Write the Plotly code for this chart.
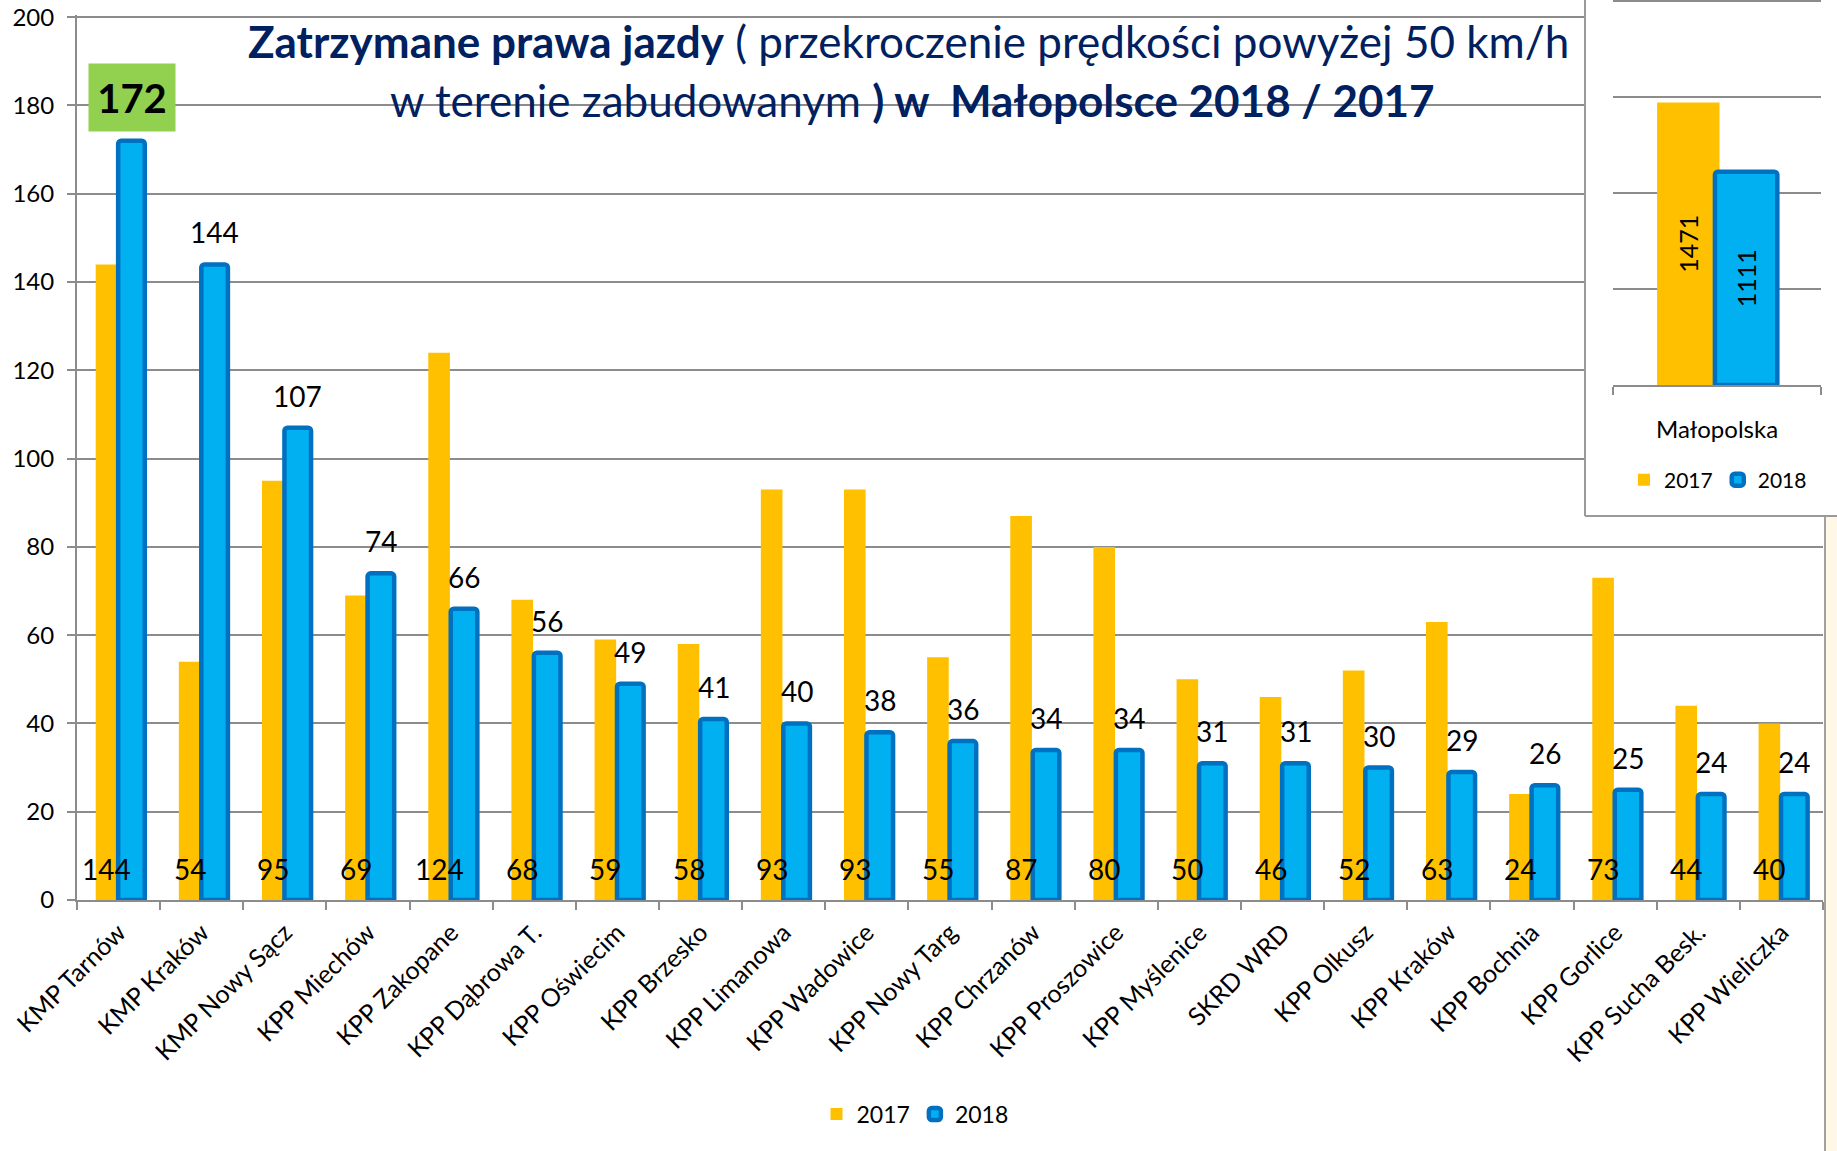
import plotly.graph_objects as go

# data
categories = ["KMP Tarnów", "KMP Kraków", "KMP Nowy Sącz", "KPP Miechów", "KPP Zakopane",
              "KPP Dąbrowa T.", "KPP Oświecim", "KPP Brzesko", "KPP Limanowa", "KPP Wadowice",
              "KPP Nowy Targ", "KPP Chrzanów", "KPP Proszowice", "KPP Myślenice", "SKRD WRD",
              "KPP Olkusz", "KPP Kraków", "KPP Bochnia", "KPP Gorlice", "KPP Sucha Besk.",
              "KPP Wieliczka"]
v2017 = [144, 54, 95, 69, 124, 68, 59, 58, 93, 93, 55, 87, 80, 50, 46, 52, 63, 24, 73, 44, 40]
v2018 = [172, 144, 107, 74, 66, 56, 49, 41, 40, 38, 36, 34, 34, 31, 31, 30, 29, 26, 25, 24, 24]

total_cat = ["Małopolska"]
total2017 = [1471]
total2018 = [1111]

YELLOW = "#FFC000"
BLUE = "#00B0F0"
BLUE_EDGE = "#0070C0"
GRID = "#8c8c8c"
TITLE = "#002060"
FONT = "Lato"

# page geometry (px, measured on the page)
W, H = 1837, 1151
L, R, T, B = 77, 14, 15, 251
pw, ph = W - L - R, H - T - B


def px_x(x):
    return (x - L) / pw


def px_y(y):
    return (H - B - y) / ph


fig = go.Figure()

fig.add_trace(go.Bar(
    x=categories, y=v2017, name="2017",
    marker=dict(color=YELLOW, line=dict(width=0)),
    offset=-0.275, width=0.26, hoverinfo="x+y",
))
fig.add_trace(go.Bar(
    x=categories, y=v2018, name="2018",
    marker=dict(color=BLUE, line=dict(color=BLUE_EDGE, width=4.5), cornerradius=3),
    offset=-0.005, width=0.32, hoverinfo="x+y",
))

# inset: totals for the whole region
fig.add_trace(go.Bar(
    x=total_cat, y=total2017, name="2017", xaxis="x3", yaxis="y3", legend="legend2",
    marker=dict(color=YELLOW, line=dict(width=0)),
    offset=-0.288, width=0.30,
    text=[str(v) for v in total2017], textposition="inside", textangle=-90,
    insidetextanchor="middle", textfont=dict(family=FONT, size=25, color="black"),
))
fig.add_trace(go.Bar(
    x=total_cat, y=total2018, name="2018", xaxis="x3", yaxis="y3", legend="legend2",
    marker=dict(color=BLUE, line=dict(color=BLUE_EDGE, width=4.5), cornerradius=3),
    offset=-0.01, width=0.30,
    text=[str(v) for v in total2018], textposition="inside", textangle=-90,
    insidetextanchor="middle", textfont=dict(family=FONT, size=25, color="black"),
))

# value labels
ann = []
for c, v in zip(categories, v2017):
    ann.append(dict(x=c, y=0, xref="x", yref="y", text=str(v), showarrow=False,
                    xanchor="center", yanchor="middle",
                    xshift=-12, yshift=31, font=dict(family=FONT, size=28, color="black")))
top = max(v2018)
for c, v in zip(categories, v2018):
    if v == top:
        ann.append(dict(x=c, y=v, xref="x", yref="y", text="<b>%d</b>" % v, showarrow=False,
                        xanchor="center", yanchor="middle",
                        xshift=13, yshift=43, bgcolor="#92D050", width=84, height=65,
                        font=dict(family=FONT, size=40, color="black")))
    else:
        ann.append(dict(x=c, y=v, xref="x", yref="y", text=str(v), showarrow=False,
                        xanchor="center", yanchor="middle",
                        xshift=13, yshift=32, font=dict(family=FONT, size=28, color="black")))

# title
ann.append(dict(x=px_x(908), y=px_y(41), xref="paper", yref="paper", showarrow=False,
                xanchor="center", yanchor="middle",
                text="<b>Zatrzymane prawa jazdy</b> ( przekroczenie prędkości powyżej 50 km/h",
                font=dict(family=FONT, size=44, color=TITLE)))
ann.append(dict(x=px_x(912), y=px_y(100), xref="paper", yref="paper", showarrow=False,
                xanchor="center", yanchor="middle",
                text="w terenie zabudowanym <b>) w  Małopolsce 2018 / 2017</b>",
                font=dict(family=FONT, size=44, color=TITLE)))

shapes = [
    # inset frame
    dict(type="line", xref="paper", yref="paper", x0=px_x(1585), x1=px_x(1585),
         y0=px_y(516), y1=px_y(0), line=dict(color="#9a9a9a", width=2), layer="above"),
    dict(type="line", xref="paper", yref="paper", x0=px_x(1585), x1=px_x(1840),
         y0=px_y(516), y1=px_y(516), line=dict(color="#9a9a9a", width=2), layer="above"),
    dict(type="rect", xref="paper", yref="paper", x0=px_x(1586), x1=px_x(1840),
         y0=1.0, y1=px_y(0), fillcolor="white", line=dict(width=0), layer="above"),
    # top gridline of the inset, just at the page edge
    dict(type="line", xref="paper", yref="paper", x0=px_x(1613), x1=px_x(1821),
         y0=px_y(1), y1=px_y(1), line=dict(color=GRID, width=2), layer="above"),
    # slide edge on the right
    dict(type="rect", xref="paper", yref="paper", x0=px_x(1826), x1=px_x(1840),
         y0=px_y(1160), y1=px_y(517), fillcolor="#FFF8E6", line=dict(width=0), layer="below"),
    dict(type="line", xref="paper", yref="paper", x0=px_x(1825), x1=px_x(1825),
         y0=px_y(1160), y1=px_y(517), line=dict(color="#a0a0a0", width=2), layer="above"),
]

inset_y_top = (385 - T) / 96 * 500

fig.update_layout(
    width=W, height=H,
    margin=dict(l=L, r=R, t=T, b=B, autoexpand=False),
    paper_bgcolor="white", plot_bgcolor="white",
    font=dict(family=FONT, size=22, color="black"),
    barmode="overlay",
    showlegend=True,
    xaxis=dict(
        type="category", range=[-0.5, len(categories) - 0.5],
        showline=True, linecolor=GRID, linewidth=2,
        ticks="outside", tickson="boundaries", ticklen=8, tickcolor=GRID, tickwidth=2,
        tickangle=-45, tickfont=dict(family=FONT, size=25, color="black"),
        ticklabelstandoff=6, showgrid=False, automargin=False,
    ),
    yaxis=dict(
        range=[0, 200.5], tickvals=list(range(0, 201, 20)),
        showline=True, linecolor=GRID, linewidth=2,
        ticks="outside", ticklen=8, tickcolor=GRID, tickwidth=2,
        showgrid=True, gridcolor=GRID, gridwidth=2, zeroline=False,
        tickfont=dict(family=FONT, size=24, color="black"), ticklabelstandoff=8,
        ticklabeloverflow="allow", automargin=False,
    ),
    # blank panel that hides the main grid behind the inset
    xaxis2=dict(domain=[px_x(1586), 1.0], visible=False, range=[0, 1]),
    yaxis2=dict(domain=[px_y(515), 1.0], visible=False, range=[0, 1], anchor="x2"),
    xaxis3=dict(
        domain=[px_x(1613), px_x(1821)], anchor="y3", type="category",
        range=[-0.5, 0.5], showline=True, linecolor=GRID, linewidth=2,
        ticks="outside", tickson="boundaries", ticklen=8, tickcolor=GRID, tickwidth=2,
        tickfont=dict(family=FONT, size=24, color="black"), ticklabelstandoff=22,
        showgrid=False,
    ),
    yaxis3=dict(
        domain=[px_y(385), 1.0], anchor="x3", range=[0, inset_y_top],
        tickvals=[500, 1000, 1500], showticklabels=False, showline=False,
        showgrid=True, gridcolor=GRID, gridwidth=2, zeroline=False,
    ),
    legend=dict(
        orientation="h", x=px_x(915), y=px_y(1114), xanchor="center", yanchor="middle",
        font=dict(family=FONT, size=23, color="black"), itemwidth=30,
        bgcolor="rgba(0,0,0,0)",
    ),
    legend2=dict(
        orientation="h", x=px_x(1718), y=px_y(480), xanchor="center", yanchor="middle",
        font=dict(family=FONT, size=21, color="black"), itemwidth=30,
        bgcolor="rgba(0,0,0,0)",
    ),
    annotations=ann,
    shapes=shapes,
)

# the blank panel needs a trace so its background is drawn
fig.add_trace(go.Scatter(x=[0.5], y=[0.5], xaxis="x2", yaxis="y2", mode="markers",
                         marker=dict(opacity=0), showlegend=False, hoverinfo="skip"))

# drop the default 8px body margin so the figure sits at the page corner
fig.write_html("out.html", config={"displayModeBar": False},
               post_script="document.body.style.margin = '0px';")
